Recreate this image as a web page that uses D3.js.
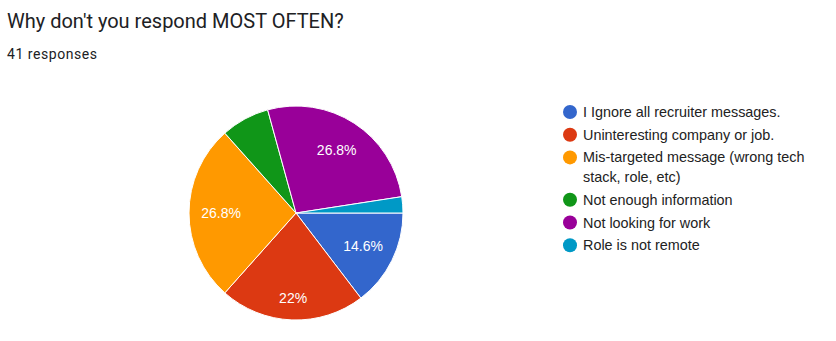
<!DOCTYPE html>
<html>
<head>
<meta charset="utf-8">
<script src="https://cdn.jsdelivr.net/npm/d3@7"></script>
<style>
  body { margin: 0; background: #fff; }
</style>
</head>
<body>
<svg id="chart"></svg>
<script>
// chart data
const answers = [
    "I Ignore all recruiter messages.",
    "Uninteresting company or job.",
    "Mis-targeted message (wrong tech stack, role, etc)",
    "Not enough information",
    "Not looking for work",
    "Role is not remote"
];
const counts = [6, 9, 11, 3, 11, 1];
const colors = ["#3366cc", "#dc3912", "#ff9900", "#109618", "#990099", "#0099c6"];
const title = "Why don't you respond MOST OFTEN?";
const subtitle = "41 responses";

const width = 836;
const height = 341;
const cx = 296, cy = 213, radius = 107;

const svg = d3.select("#chart")
    .attr("width", width)
    .attr("height", height)
    .attr("viewBox", [0, 0, width, height]);

// title + response count
svg.append("text")
    .attr("x", 7)
    .attr("y", 28)
    .attr("font-family", "Roboto, sans-serif")
    .attr("font-size", 20)
    .attr("fill", "#202124")
    .text(title);

svg.append("text")
    .attr("x", 7)
    .attr("y", 59)
    .attr("font-family", "Roboto, sans-serif")
    .attr("font-size", 14)
    .attr("letter-spacing", 0.55)
    .attr("fill", "#202124")
    .text(subtitle);

const data = answers.map((a, i) => ({ answer: a, count: counts[i] }));
const total = d3.sum(counts);

const color = d3.scaleOrdinal()
    .domain(answers)
    .range(colors);

// google charts starts at 3 o'clock and goes clockwise
const pie = d3.pie()
    .value(d => d.count)
    .sort(null)
    .startAngle(Math.PI / 2)
    .endAngle(Math.PI / 2 + 2 * Math.PI);

const arc = d3.arc().innerRadius(0).outerRadius(radius);
const labelArc = d3.arc().innerRadius(radius * 0.7).outerRadius(radius * 0.7);

const g = svg.append("g").attr("transform", `translate(${cx},${cy})`);

const arcs = pie(data);

g.selectAll("path")
    .data(arcs)
    .join("path")
    .attr("d", arc)
    .attr("fill", d => color(d.data.answer))
    .attr("stroke", "#fff")
    .attr("stroke-width", 1);

// percentage labels, only on slices big enough to hold them
const fmt = v => {
    const p = Math.round(v / total * 1000) / 10;
    return p + "%";
};

g.selectAll("text.pct")
    .data(arcs.filter(d => d.data.count / total > 0.1))
    .join("text")
    .attr("class", "pct")
    .attr("transform", d => {
        const [x, y] = labelArc.centroid(d);
        const adj = d.data.answer.startsWith("Uninteresting") ? 10 : 0;
        return `translate(${x},${y + adj})`;
    })
    .attr("text-anchor", "middle")
    .attr("dy", "0.35em")
    .attr("font-family", "Arial, 'Liberation Sans', sans-serif")
    .attr("font-size", 14)
    .attr("fill", "#fff")
    .text(d => fmt(d.data.count));

// legend
const legend = svg.append("g")
    .attr("font-family", "Arial, 'Liberation Sans', sans-serif")
    .attr("font-size", 14.4)
    .attr("fill", "#222");

const maxW = 245;
let y = 112;
answers.forEach(a => {
    const row = legend.append("g");
    row.append("circle")
        .attr("cx", 570)
        .attr("cy", y)
        .attr("r", 7)
        .attr("fill", color(a));

    const words = a.split(" ");
    const text = row.append("text").attr("x", 583).attr("y", y).attr("dy", "0.35em");
    let tspan = text.append("tspan").attr("x", 583);
    let line = [];
    let nLines = 1;
    words.forEach(w => {
        line.push(w);
        tspan.text(line.join(" "));
        if (tspan.node().getComputedTextLength() > maxW && line.length > 1) {
            line.pop();
            tspan.text(line.join(" "));
            line = [w];
            tspan = text.append("tspan").attr("x", 583).attr("dy", 19.7).text(w);
            nLines++;
        }
    });
    y += 22.7 + (nLines - 1) * 19.7;
});
</script>
</body>
</html>
